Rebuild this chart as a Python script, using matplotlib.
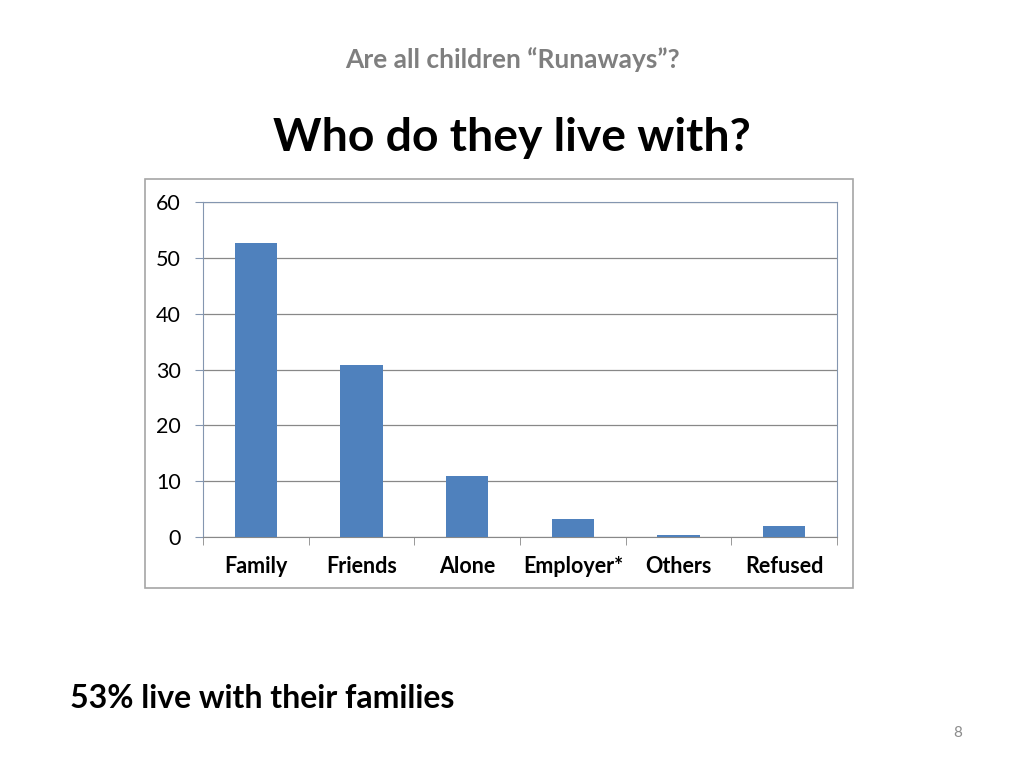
import matplotlib
matplotlib.use("Agg")
import matplotlib.pyplot as plt
from matplotlib.patches import Rectangle
import numpy as np

categories = ["Family", "Friends", "Alone", "Employer*", "Others", "Refused"]
values = [52.7, 30.8, 10.9, 3.2, 0.35, 2.0]
yticks = [0, 10, 20, 30, 40, 50, 60]

plt.rcParams['font.family'] = ['Lato', 'DejaVu Sans']

fig = plt.figure(figsize=(10.24, 7.68), dpi=100)
fig.patch.set_facecolor("white")

# chart outer border
fig.patches.append(Rectangle((145/1024, 1-588/768), (853-145)/1024, (588-179)/768,
                             transform=fig.transFigure, fill=False,
                             edgecolor="#a6a6a6", linewidth=1.2))

ax = fig.add_axes([203/1024, 1-537/768, 634/1024, 335/768])
x = np.arange(len(categories))
ax.bar(x, values, width=0.4, color="#4f81bd", zorder=3)
ax.set_xlim(-0.5, len(categories)-0.5)
ax.set_ylim(0, 60)
ax.set_yticks(yticks)
ax.set_yticklabels([str(v) for v in yticks], fontsize=15.5)
ax.set_xticks(x)
ax.set_xticklabels(categories, fontsize=15.5, fontweight="bold")
ax.tick_params(axis="x", length=0, pad=14)
ax.set_xticks(np.arange(-0.5, len(categories)), minor=True)
ax.tick_params(axis="x", which="minor", length=6, color="#888888", direction="out")
ax.tick_params(axis="y", length=6, color="#8496b0", direction="out", pad=10)
ax.grid(axis="y", color="#888888", linewidth=0.9, zorder=0)
for s in ["left", "right", "top"]:
    ax.spines[s].set_color("#8496b0")
ax.spines["bottom"].set_color("#888888")

fig.text(0.5, 1-60/768, "Are all children \u201cRunaways\u201d?", ha="center", va="center",
         fontsize=19, fontweight="bold", color="#7f7f7f")
fig.text(0.5, 1-138/768, "Who do they live with?", ha="center", va="center",
         fontsize=33.3, fontweight="bold", color="black")
fig.text(70/1024, 1-698/768, "53% live with their families", ha="left", va="center",
         fontsize=23, fontweight="bold", color="black")
fig.text(958/1024, 1-733/768, "8", ha="center", va="center",
         fontsize=11, color="#8c8c8c")

fig.savefig("out.png", dpi=100)
